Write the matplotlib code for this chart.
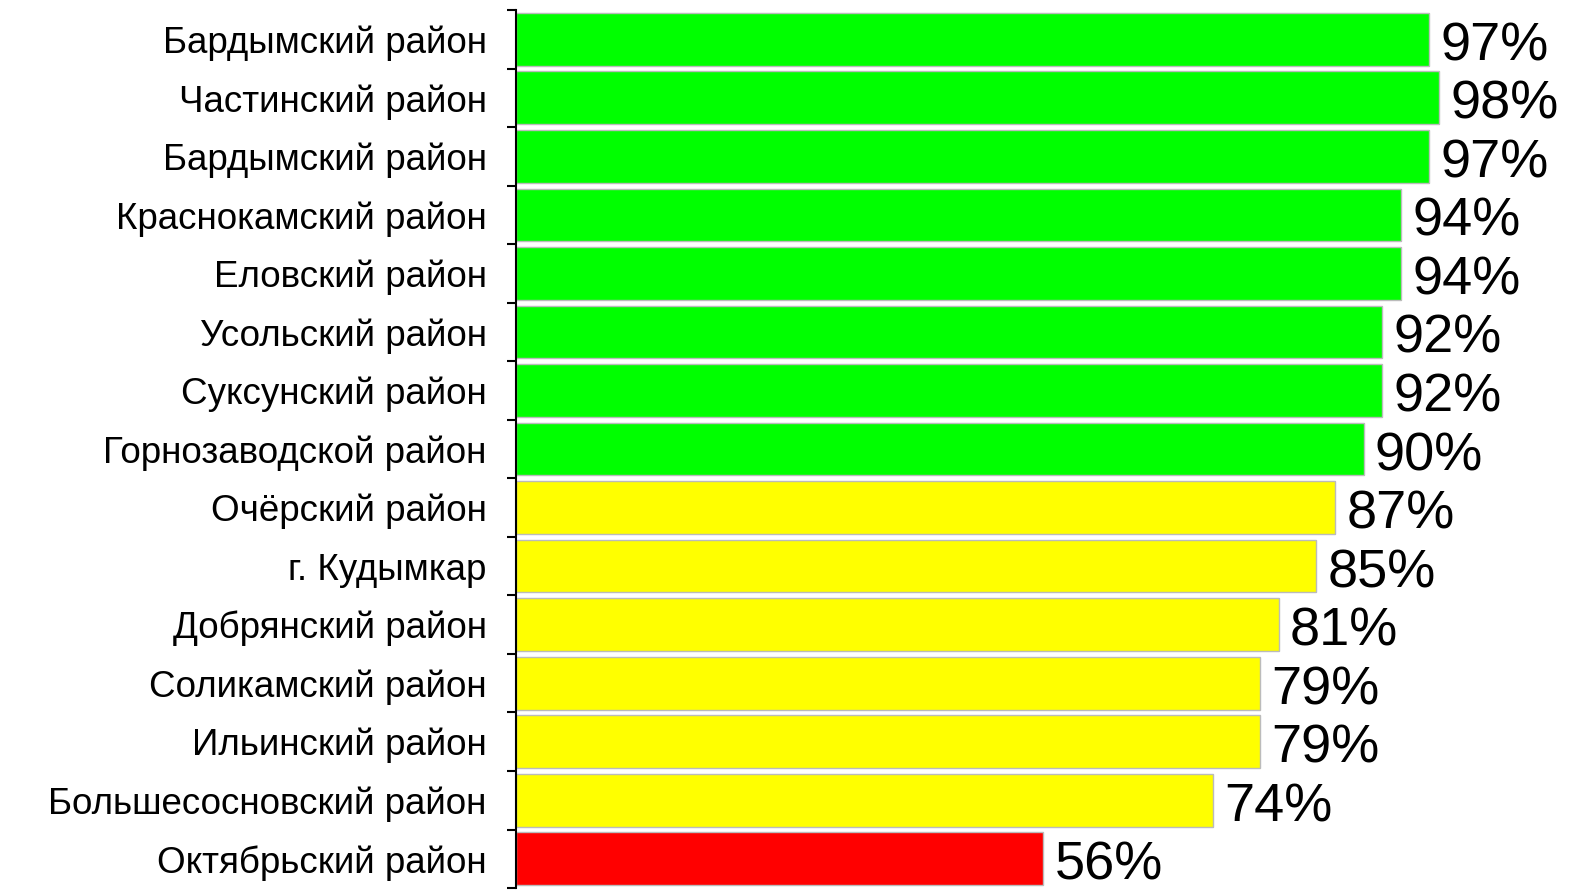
import matplotlib.pyplot as plt
import numpy as np

plt.rcParams['font.family'] = ['Liberation Sans', 'DejaVu Sans']

districts = ['Бардымский район', 'Частинский район', 'Бардымский район',
             'Краснокамский район', 'Еловский район', 'Усольский район',
             'Суксунский район', 'Горнозаводской район', 'Очёрский район',
             'г. Кудымкар', 'Добрянский район', 'Соликамский район',
             'Ильинский район', 'Большесосновский район', 'Октябрьский район']
percent = [97, 98, 97, 94, 94, 92, 92, 90, 87, 85, 81, 79, 79, 74, 56]


def bar_color(v):
    if v >= 90:
        return '#00ff00'
    if v >= 70:
        return '#ffff00'
    return '#ff0000'


fig = plt.figure(figsize=(15.83, 8.90), dpi=100)
ax = fig.add_axes([516 / 1583, 0.0022, 1 - 516 / 1583, 0.9866])

pos = np.arange(len(districts))
ax.barh(pos, percent, height=0.9, color=[bar_color(v) for v in percent],
        edgecolor='#bbbbbb', linewidth=1)

for p, v in zip(pos, percent):
    ax.text(v + 1.2, p + 0.12, f'{v}%', va='center', ha='left', fontsize=39)

ax.set_xlim(0, 113.3)
ax.set_ylim(len(districts) - 0.5, -0.5)
ax.set_yticks(pos)
ax.set_yticklabels(districts, fontsize=26.5)
ax.set_yticks(np.arange(len(districts) + 1) - 0.5, minor=True)
ax.tick_params(axis='y', which='major', length=0, pad=21)
ax.tick_params(axis='y', which='minor', length=6.5, width=1.5, direction='out')
ax.set_xticks([])
for side in ['top', 'right', 'bottom']:
    ax.spines[side].set_visible(False)
ax.spines['left'].set_linewidth(1.5)

fig.savefig('out.png', dpi=100)
